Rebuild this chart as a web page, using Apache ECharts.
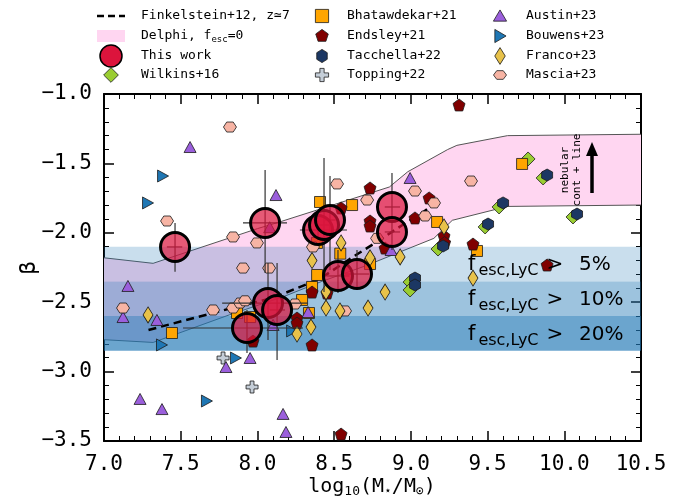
<!DOCTYPE html>
<html><head><meta charset="utf-8">
<script src="https://cdn.jsdelivr.net/npm/echarts@6/dist/echarts.min.js"></script>
<style>html,body{margin:0;padding:0;background:#fff}#c{width:676px;height:502px}</style>
</head><body><div id="c"></div><script>
// ---------- data ----------
const xMin = 7.0, xMax = 10.5, xStep = 0.5;
const yMin = -3.5, yMax = -1.0, yStep = 0.5;

const finkX = [7.29, 7.84, 8.10, 8.41, 8.60, 8.80, 8.95, 9.07, 9.19];
const finkY = [-2.70, -2.54, -2.47, -2.33, -2.19, -2.05, -1.94, -1.86, -1.76];

const delphiUpX = [7.0, 7.32, 8.0, 8.15, 8.86, 8.98, 9.24, 9.30, 9.63, 10.5];
const delphiUpY = [-2.18, -2.22, -1.97, -1.92, -1.67, -1.56, -1.40, -1.37, -1.30, -1.29];
const delphiLoX = [7.0, 7.32, 7.82, 8.17, 8.42, 8.70, 9.15, 9.27, 9.63, 10.5];
const delphiLoY = [-2.77, -2.79, -2.59, -2.46, -2.35, -2.24, -2.04, -1.91, -1.81, -1.80];

const bandTop = [-2.10, -2.35, -2.60];
const bandBottom = [-2.35, -2.60, -2.85];
const bandPct = ['5%', '10%', '20%'];

const twX = [7.463, 8.050, 8.395, 8.434, 8.473, 8.877, 8.877, 8.069, 8.128, 7.932, 8.525, 8.649];
const twY = [-2.102, -1.929, -1.980, -1.944, -1.908, -1.814, -1.994, -2.506, -2.556, -2.686, -2.311, -2.297];
const twXlo = [7.41, 7.906, 8.277, 8.40, 8.44, 8.83, 8.83, 7.77, 8.08, 7.515, 8.45, 8.57];
const twXhi = [7.51, 8.193, 8.584, 8.47, 8.51, 8.93, 8.93, 8.33, 8.18, 8.297, 8.60, 8.73];
const twYlo = [-2.28, -2.29, -2.05, -2.427, -2.268, -1.92, -2.124, -2.772, -2.916, -2.866, -2.434, -2.412];
const twYhi = [-1.93, -1.548, -1.91, -1.461, -1.591, -1.569, -1.90, -2.218, -2.218, -2.556, -2.124, -2.124];

const wilkX = [9.764, 9.862, 9.575, 9.484, 10.057, 9.177, 8.995, 8.995];
const wilkY = [-1.468, -1.605, -1.814, -1.958, -1.886, -2.117, -2.355, -2.412];

const bhatX = [8.408, 8.617, 9.171, 8.54, 9.725, 9.431, 8.389, 8.356, 8.291, 8.336, 8.734, 7.443, 7.867, 7.952, 8.388];
const bhatY = [-1.778, -1.800, -1.922, -2.15, -1.504, -2.131, -2.304, -2.39, -2.484, -2.578, -2.225, -2.722, -2.578, -2.607, -2.073];

const endsX = [9.314, 9.405, 9.888, 8.734, 8.545, 8.734, 8.734, 8.832, 9.119, 9.027, 9.216, 9.22, 8.356, 8.258, 8.258, 8.356, 7.971, 8.454, 8.545];
const endsY = [-1.079, -2.081, -2.232, -1.677, -1.821, -1.915, -1.951, -2.11, -1.749, -1.893, -2.023, -2.07, -2.427, -2.614, -2.65, -2.808, -2.78, -2.434, -3.45];

const tacX = [9.888, 9.601, 9.503, 10.083, 9.21, 9.027, 9.027];
const tacY = [-1.584, -1.785, -1.937, -1.865, -2.095, -2.326, -2.376];

const topX = [7.776, 7.965];
const topY = [-2.902, -3.111];

const ausX = [7.561, 8.121, 8.08, 8.995, 8.871, 8.33, 8.102, 7.952, 7.156, 7.124, 7.345, 7.795, 7.235, 7.378, 8.167, 8.186];
const ausY = [-1.382, -1.728, -1.96, -1.605, -2.124, -2.571, -2.664, -2.902, -2.383, -2.607, -2.628, -2.967, -3.197, -3.27, -3.305, -3.435];

const bouX = [7.385, 7.287, 7.378, 7.86, 7.671, 8.226];
const bouY = [-1.591, -1.785, -2.808, -2.902, -3.212, -2.707];

const fraX = [8.545, 8.356, 8.734, 8.93, 9.216, 8.447, 8.447, 8.349, 8.258, 8.538, 8.721, 8.832, 7.287, 9.405];
const fraY = [-2.073, -2.20, -2.18, -2.174, -1.958, -2.426, -2.542, -2.679, -2.729, -2.563, -2.542, -2.427, -2.592, -2.326];

const masX = [7.821, 7.411, 7.841, 7.997, 7.906, 8.076, 7.124, 7.711, 7.841, 7.887, 7.919, 8.519, 8.715, 8.362, 8.78, 9.027, 9.392, 9.151, 9.093, 8.245, 8.571];
const masY = [-1.238, -1.915, -2.03, -2.073, -2.254, -2.254, -2.542, -2.556, -2.542, -2.506, -2.49, -1.648, -1.764, -2.102, -2.04, -1.699, -1.627, -1.785, -1.879, -2.513, -2.563];

// ---------- shapes ----------
const SH = {
  square: [[-1,-1],[1,-1],[1,1],[-1,1]],
  pent: [[0,-1],[0.951,-0.309],[0.588,0.809],[-0.588,0.809],[-0.951,-0.309]],
  hexV: [[0,-1],[0.866,-0.5],[0.866,0.5],[0,1],[-0.866,0.5],[-0.866,-0.5]],
  hexH: [[-1,0],[-0.5,-0.866],[0.5,-0.866],[1,0],[0.5,0.866],[-0.5,0.866]],
  plus: [[-0.32,-1],[0.32,-1],[0.32,-0.32],[1,-0.32],[1,0.32],[0.32,0.32],[0.32,1],[-0.32,1],[-0.32,0.32],[-1,0.32],[-1,-0.32],[-0.32,-0.32]],
  triUp: [[0,-1],[1,0.85],[-1,0.85]],
  triR: [[-0.85,-1],[1,0],[-0.85,1]],
  dia: [[0,-1],[1,0],[0,1],[-1,0]]
};
function pathOf(pts){ return 'path://M' + pts.map(p => p[0] + ' ' + p[1]).join(' L') + ' Z'; }
function polyAt(pts, cx, cy, w, h){ return pts.map(p => [cx + p[0]*w/2, cy + p[1]*h/2]); }
const zip = (xs, ys) => xs.map((x, i) => [x, ys[i]]);

const EDGE = '#1a1a1a';
const C = {
  wilk: '#9acd32', bhat: '#ffa500', ends: '#800000', tac: '#1c3763', top: '#c5ced8',
  aus: '#9b5fdc', bou: '#1f77b4', fra: '#e8c24a', mas: '#f7b4a4', tw: 'rgba(220,20,60,0.7)'
};
const SYM = {
  wilk: {sh: SH.dia, size: [14,14]}, bhat: {sh: SH.square, size: [11,11]}, ends: {sh: SH.pent, size: [12,12]},
  tac: {sh: SH.hexV, size: [11,12]}, top: {sh: SH.plus, size: [12,12]}, aus: {sh: SH.triUp, size: [12,11]},
  bou: {sh: SH.triR, size: [11,12]}, fra: {sh: SH.dia, size: [10,16]}, mas: {sh: SH.hexH, size: [13,10]}
};
function scat(name, key, xs, ys, z){
  return { type: 'scatter', name, data: zip(xs, ys), symbol: pathOf(SYM[key].sh), symbolSize: SYM[key].size,
    itemStyle: { color: C[key], borderColor: EDGE, borderWidth: 0.8, opacity: 1 }, z: z || 4, silent: true };
}

const mono = 'DejaVu Sans Mono';
const axisCommon = {
  axisLine: { show: true, onZero: false, lineStyle: { color: '#000', width: 2 } },
  axisTick: { show: true, inside: true, length: 10, lineStyle: { color: '#000', width: 1.5 } },
  minorTick: { show: true, splitNumber: 5, length: 5, lineStyle: { color: '#000', width: 1 } },
  splitLine: { show: false }
};
const fmt = v => (v < 0 ? '\u2212' : '') + Math.abs(v).toFixed(1);

// ---------- legend (graphic) ----------
const lgFont = { fontFamily: mono, fontSize: 13, fill: '#000' };
const rowsY = [16, 36, 56, 75];
const col = [111, 322, 500];
const txtX = [141, 347, 526];
const graphics = [];
function lgText(x, y, text, rich){
  graphics.push({ type: 'text', x, y, style: Object.assign({ text, verticalAlign: 'middle', align: 'left', rich }, lgFont), z: 100 });
}
function lgPoly(key, cx, cy, scale){
  const s = SYM[key].size;
  graphics.push({ type: 'polygon', shape: { points: polyAt(SYM[key].sh, cx, cy, s[0]*scale, s[1]*scale) },
    style: { fill: C[key], stroke: EDGE, lineWidth: 0.8 }, z: 100 });
}
// column 1
graphics.push({ type: 'line', shape: { x1: 97, y1: rowsY[0], x2: 125, y2: rowsY[0] }, style: { stroke: '#000', lineWidth: 2.5, lineDash: [7, 4] }, z: 100 });
lgText(txtX[0], rowsY[0], 'Finkelstein+12, z\u22437');
graphics.push({ type: 'rect', shape: { x: 97, y: rowsY[1]-6, width: 28, height: 12 }, style: { fill: '#ffd6f1' }, z: 100 });
lgText(txtX[0], rowsY[1], '{a|Delphi, f}{s|esc}{a|=0}', { a: { fontFamily: mono, fontSize: 13 }, s: { fontFamily: mono, fontSize: 9, padding: [7, 0, 0, 0] } });
graphics.push({ type: 'circle', shape: { cx: col[0], cy: rowsY[2], r: 11 }, style: { fill: '#dc143c', stroke: '#000', lineWidth: 1.5 }, z: 100 });
lgText(txtX[0], rowsY[2], 'This work');
lgPoly('wilk', col[0], rowsY[3], 1.05);
lgText(txtX[0], rowsY[3], 'Wilkins+16');
// column 2
lgPoly('bhat', col[1], rowsY[0], 1.2); lgText(txtX[1], rowsY[0], 'Bhatawdekar+21');
lgPoly('ends', col[1], rowsY[1], 1.1); lgText(txtX[1], rowsY[1], 'Endsley+21');
lgPoly('tac', col[1], rowsY[2], 1.1); lgText(txtX[1], rowsY[2], 'Tacchella+22');
lgPoly('top', col[1], rowsY[3], 1.1); lgText(txtX[1], rowsY[3], 'Topping+22');
// column 3
lgPoly('aus', col[2], rowsY[0], 1.1); lgText(txtX[2], rowsY[0], 'Austin+23');
lgPoly('bou', col[2], rowsY[1], 1.1); lgText(txtX[2], rowsY[1], 'Bouwens+23');
lgPoly('fra', col[2], rowsY[2], 1.05); lgText(txtX[2], rowsY[2], 'Franco+23');
lgPoly('mas', col[2], rowsY[3], 1.0); lgText(txtX[2], rowsY[3], 'Mascia+23');

// band labels
const bandRowY = [265, 300, 335];
bandPct.forEach((p, i) => {
  graphics.push({ type: 'text', x: 468, y: bandRowY[i], z: 50,
    style: { text: '{f|f}{s|esc,LyC}{g|>}', verticalAlign: 'middle', align: 'left',
      rich: { f: { fontFamily: 'DejaVu Sans', fontSize: 21, fill: '#000' },
              s: { fontFamily: 'DejaVu Sans', fontSize: 16, fill: '#000', padding: [11, 8, 0, 3] },
              g: { fontFamily: 'DejaVu Sans', fontSize: 20, fill: '#000' } } } });
  graphics.push({ type: 'text', x: 579, y: bandRowY[i], z: 50,
    style: { text: p, fontFamily: 'DejaVu Sans', fontSize: 20, fill: '#000', verticalAlign: 'middle', align: 'left' } });
});
// nebular annotation + arrow
graphics.push({ type: 'text', x: 571, y: 170, rotation: Math.PI/2, z: 50,
  style: { text: 'nebular\ncont + line', fontFamily: mono, fontSize: 11, fill: '#000', align: 'center', verticalAlign: 'middle', lineHeight: 12 } });
graphics.push({ type: 'line', shape: { x1: 592, y1: 193, x2: 592, y2: 154 }, style: { stroke: '#000', lineWidth: 3.5 }, z: 50 });
graphics.push({ type: 'polygon', shape: { points: [[586, 156], [598, 156], [592, 142]] }, style: { fill: '#000' }, z: 50 });
// axis titles
graphics.push({ type: 'text', x: 29, y: 268, rotation: Math.PI/2, z: 50,
  style: { text: '\u03b2', fontFamily: mono, fontSize: 22, fill: '#000', align: 'center', verticalAlign: 'middle' } });
graphics.push({ type: 'text', x: 372, y: 487, z: 50,
  style: { text: '{a|log}{s|10}{a|(M}{s|\u22c6}{a|/M}{s|\u2299}{a|)}', align: 'center', verticalAlign: 'middle',
    rich: { a: { fontFamily: mono, fontSize: 20, fill: '#000' }, s: { fontFamily: mono, fontSize: 13, fill: '#000', padding: [9, 0, 0, 0] } } } });

const chart = echarts.init(document.getElementById('c'), null, { renderer: 'canvas' });
chart.setOption({
  animation: false,
  backgroundColor: '#fff',
  grid: { left: 104, right: 35, top: 94, bottom: 61 },
  xAxis: [
    Object.assign({ type: 'value', min: xMin, max: xMax, interval: xStep, position: 'bottom',
      axisLabel: { formatter: fmt, fontFamily: mono, fontSize: 21, color: '#000', margin: 13 } }, axisCommon),
    Object.assign({ type: 'value', min: xMin, max: xMax, interval: xStep, position: 'top', axisLabel: { show: false } }, axisCommon)
  ],
  yAxis: [
    Object.assign({ type: 'value', min: yMin, max: yMax, interval: yStep, position: 'left',
      axisLabel: { formatter: fmt, fontFamily: mono, fontSize: 21, color: '#000', margin: 12 } }, axisCommon),
    Object.assign({ type: 'value', min: yMin, max: yMax, interval: yStep, position: 'right', axisLabel: { show: false } }, axisCommon)
  ],
  graphic: graphics,
  series: [
    { type: 'custom', name: 'Delphi', silent: true, z: 1, clip: true,
      data: [[delphiUpX[0], delphiUpY[0]]],
      renderItem: (p, api) => {
        const up = delphiUpX.map((x, i) => api.coord([x, delphiUpY[i]]));
        const lo = delphiLoX.map((x, i) => api.coord([x, delphiLoY[i]]));
        return { type: 'group', children: [
          { type: 'polygon', shape: { points: up.concat(lo.slice().reverse()) }, style: { fill: '#ffd6f1' } },
          { type: 'polyline', shape: { points: up }, style: { stroke: '#555', lineWidth: 1, fill: null } },
          { type: 'polyline', shape: { points: lo }, style: { stroke: '#555', lineWidth: 1, fill: null } }
        ] };
      } },
    { type: 'custom', name: 'fesc bands', silent: true, z: 2, clip: true,
      data: bandTop.map((t, i) => [xMin, t, bandBottom[i], i]),
      renderItem: (p, api) => {
        const cs = p.coordSys;
        const y1 = api.coord([xMin, api.value(1)])[1];
        const y2 = api.coord([xMin, api.value(2)])[1];
        const alphas = [0.24, 0.44, 0.66];
        return { type: 'rect', shape: { x: cs.x, y: y1, width: cs.width, height: y2 - y1 },
          style: { fill: 'rgba(31,119,180,' + alphas[api.value(3)] + ')' } };
      } },
    { type: 'line', name: 'Finkelstein+12, z\u22437', data: zip(finkX, finkY), showSymbol: false, symbol: 'none', z: 3, silent: true,
      lineStyle: { color: '#000', width: 2.5, type: [8, 5] } },
    scat('Wilkins+16', 'wilk', wilkX, wilkY, 4),
    scat('Bhatawdekar+21', 'bhat', bhatX, bhatY, 4),
    scat('Endsley+21', 'ends', endsX, endsY, 4),
    scat('Tacchella+22', 'tac', tacX, tacY, 4),
    scat('Topping+22', 'top', topX, topY, 4),
    scat('Austin+23', 'aus', ausX, ausY, 4),
    scat('Bouwens+23', 'bou', bouX, bouY, 4),
    scat('Mascia+23', 'mas', masX, masY, 4),
    scat('Franco+23', 'fra', fraX, fraY, 4),
    { type: 'custom', name: 'This work errors', silent: true, z: 5,
      data: twX.map((x, i) => [x, twY[i], twXlo[i], twXhi[i], twYlo[i], twYhi[i]]),
      encode: { x: [0, 2, 3], y: [1, 4, 5] },
      renderItem: (p, api) => {
        const xl = api.coord([api.value(2), api.value(1)]), xh = api.coord([api.value(3), api.value(1)]);
        const yl = api.coord([api.value(0), api.value(4)]), yh = api.coord([api.value(0), api.value(5)]);
        const st = { stroke: '#333', lineWidth: 1.2 };
        return { type: 'group', children: [
          { type: 'line', shape: { x1: xl[0], y1: xl[1], x2: xh[0], y2: xh[1] }, style: st },
          { type: 'line', shape: { x1: yl[0], y1: yl[1], x2: yh[0], y2: yh[1] }, style: st }
        ] };
      } },
    { type: 'scatter', name: 'This work', data: zip(twX, twY), symbol: 'circle', symbolSize: 29, z: 6, silent: true,
      itemStyle: { color: C.tw, borderColor: '#000', borderWidth: 3, opacity: 1 } }
  ]
});
</script></body></html>
